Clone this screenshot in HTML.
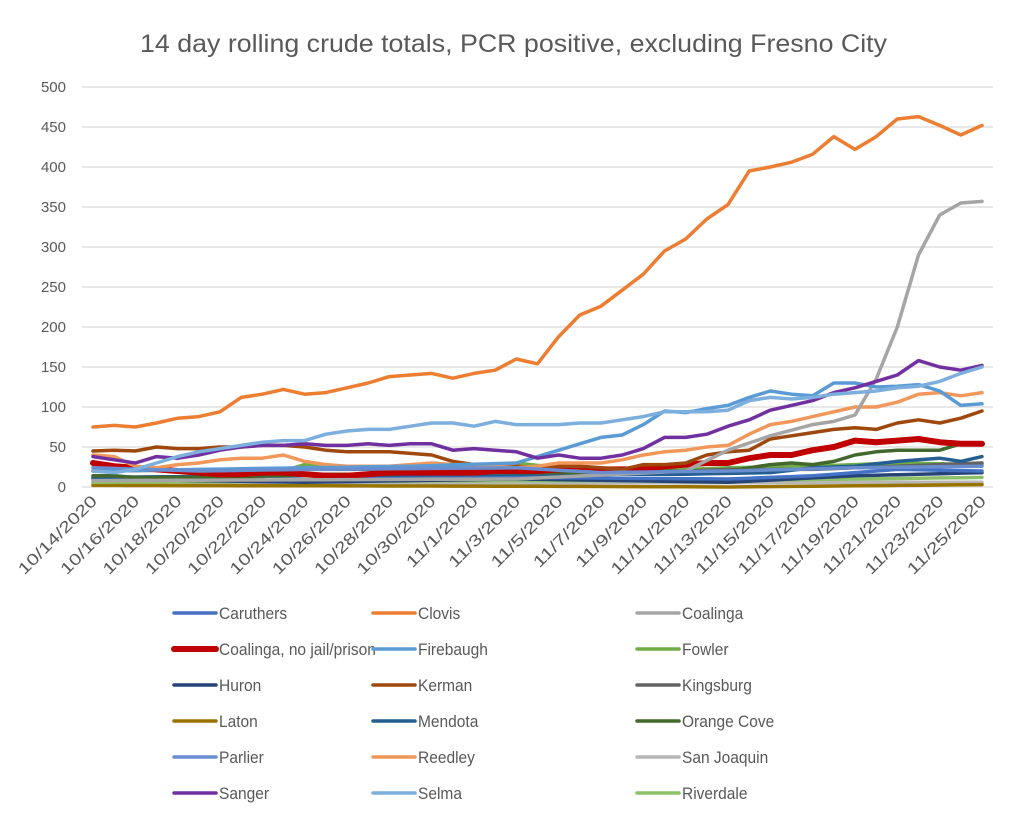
<!DOCTYPE html>
<html><head><meta charset="utf-8"><style>
body{margin:0;background:#fff;}
svg{display:block;font-family:"Liberation Sans",sans-serif;}
</style></head><body>
<svg id="c" width="1024" height="828" viewBox="0 0 1024 828" xmlns="http://www.w3.org/2000/svg">
<rect x="0" y="0" width="1024" height="828" fill="#fff"/>
<text x="140" y="52" font-size="25" textLength="747" lengthAdjust="spacingAndGlyphs" fill="#595959">14 day rolling crude totals, PCR positive, excluding Fresno City</text>
<g id="grid"></g><g id="series"></g><g id="legend"></g>
</svg>
<script>
const NS="http://www.w3.org/2000/svg";
function el(n,a,t){const e=document.createElementNS(NS,n);for(const k in a)e.setAttribute(k,a[k]);if(t!==undefined)e.textContent=t;return e;}
const X0=93,DX=(982-93)/42,Y0=487,SY=0.8;
const X=i=>X0+i*DX, Y=v=>Y0-v*SY;
const g=document.getElementById('grid');
for(let v=0;v<=500;v+=50){
 g.appendChild(el('line',{x1:82,x2:993,y1:Y(v),y2:Y(v),stroke:'#d9d9d9','stroke-width':1.3}));
 g.appendChild(el('text',{x:66,y:Y(v)+5,'text-anchor':'end','font-size':15,fill:'#595959'},v));
}
const start=new Date(2020,9,14);
for(let i=0;i<43;i+=2){
 const d=new Date(start.getTime()+i*86400000);
 const s=(d.getMonth()+1)+'/'+d.getDate()+'/2020';
 const x=X(i)+5,y=502;
 const len=s.length>=10?104:94;
 g.appendChild(el('text',{x:x,y:y,'text-anchor':'end','font-size':16,textLength:len,lengthAdjust:'spacingAndGlyphs',fill:'#595959',transform:`rotate(-45 ${x} ${y})`},s));
}
function lerp(pts){const r=[];for(let i=0;i<43;i++){let j=0;while(j<pts.length-2&&pts[j+1][0]<i)j++;const [i0,v0]=pts[j],[i1,v1]=pts[j+1];r.push(v0+(v1-v0)*Math.max(0,Math.min(1,(i-i0)/(i1-i0))));}return r;}
const S=[
["San Joaquin","#B7B7B7",lerp([[0,4],[20,5],[42,6]]),3.5],
["Laton","#997300",lerp([[0,2],[20,1],[30,0],[42,3]]),3.5],
["Riverdale","#8CC168",lerp([[0,6],[20,8],[30,8],[36,10],[42,12]]),3.5],
["Huron","#264478",lerp([[0,10],[10,6],[20,10],[30,6],[36,14],[42,18]]),3.5],
["Caruthers","#4472C4",lerp([[0,12],[10,14],[20,12],[30,10],[34,14],[38,22],[42,20]]),3.5],
["Fowler","#70AD47",lerp([[0,10],[8,12],[10,28],[12,24],[16,20],[20,30],[22,24],[26,20],[30,24],[34,26],[38,30],[42,28]]),3.5],
["Kingsburg","#636363",lerp([[0,20],[8,22],[14,22],[20,20],[26,18],[30,22],[34,22],[38,26],[42,30]]),3.5],
["Mendota","#255E91",lerp([[0,12],[10,14],[20,16],[28,16],[32,18],[34,24],[36,26],[38,32],[40,36],[41,32],[42,38]]),3.5],
["Orange Cove","#43682B",[14,14,12,12,12,12,12,12,14,14,16,16,16,16,16,18,18,18,18,18,18,18,18,18,18,18,18,20,20,20,20,24,28,30,28,32,40,44,46,46,46,54,54],3.5],
["Coalinga, no jail/prison","#C00000",[30,26,24,22,20,18,16,16,18,18,16,14,14,16,18,18,18,18,18,20,20,20,22,22,22,22,22,26,28,30,30,36,40,40,46,50,58,56,58,60,56,54,54],6],
["Kerman","#9E480E",[45,46,45,50,48,48,50,50,52,52,50,46,44,44,44,42,40,32,28,26,26,24,26,26,24,22,28,28,30,40,44,46,60,64,68,72,74,72,80,84,80,86,95],3.5],
["Reedley","#F1975A",[40,38,26,24,28,30,34,36,36,40,32,28,26,26,26,28,30,28,28,26,24,26,30,30,30,34,40,44,46,50,52,66,78,82,88,94,100,100,106,116,118,114,118],3.5],
["Coalinga","#A5A5A5",lerp([[0,8],[20,10],[28,20],[30,46],[32,64],[34,78],[35,82],[36,90],[37,135],[38,200],[39,290],[40,340],[41,355],[42,357]]),3.5],
["Firebaugh","#5B9BD5",lerp([[0,20],[5,22],[10,24],[15,26],[20,30],[22,46],[24,62],[25,65],[26,78],[27,95],[28,93],[29,98],[30,102],[31,112],[32,120],[33,116],[34,114],[35,130],[36,130],[37,125],[38,126],[39,128],[40,120],[41,102],[42,104]]),3.5],
["Parlier","#698ED0",lerp([[0,24],[5,20],[10,22],[20,24],[24,18],[30,20],[36,24],[42,26]]),3.5],
["Sanger","#7030A0",[38,34,30,38,36,40,46,50,52,52,54,52,52,54,52,54,54,46,48,46,44,36,40,36,36,40,48,62,62,66,76,84,96,102,108,118,124,132,140,158,150,146,152],3.5],
["Selma","#7CAFDD",[20,18,22,30,38,44,48,52,56,58,58,66,70,72,72,76,80,80,76,82,78,78,78,80,80,84,88,94,94,94,96,108,112,110,112,116,118,120,124,126,132,142,150],3.5],
["Clovis","#ED7D31",[75,77,75,80,86,88,94,112,116,122,116,118,124,130,138,140,142,136,142,146,160,154,188,215,226,246,266,295,310,335,353,395,400,406,416,438,422,438,460,463,452,440,452],3.5]
];
const sg=document.getElementById('series');
S.forEach(s=>{const d=s[2].map((v,i)=>(i?'L':'M')+X(i).toFixed(1)+','+Y(v).toFixed(1)).join('');
 sg.appendChild(el('path',{d:d,fill:'none',stroke:s[1],'stroke-width':s[3],'stroke-linejoin':'round','stroke-linecap':'round'}));});
const L=[["Caruthers","#4472C4"],["Clovis","#ED7D31"],["Coalinga","#A5A5A5"],["Coalinga, no jail/prison","#C00000",6],["Firebaugh","#5B9BD5"],["Fowler","#70AD47"],["Huron","#264478"],["Kerman","#9E480E"],["Kingsburg","#636363"],["Laton","#997300"],["Mendota","#255E91"],["Orange Cove","#43682B"],["Parlier","#698ED0"],["Reedley","#F1975A"],["San Joaquin","#B7B7B7"],["Sanger","#7030A0"],["Selma","#7CAFDD"],["Riverdale","#8CC168"]];
const lg=document.getElementById('legend');const tx=[219,418,682];
L.forEach((l,k)=>{const c=k%3,r=Math.floor(k/3);const y=613+r*36;const x=tx[c];
 lg.appendChild(el('line',{x1:x-45,x2:x-3,y1:y,y2:y,stroke:l[1],'stroke-width':l[2]||3.5,'stroke-linecap':'round'}));
 lg.appendChild(el('text',{'font-size':16,fill:'#595959',transform:`translate(${x} ${y+6}) scale(0.97 1.05)`},l[0]));});
</script>
</body></html>
